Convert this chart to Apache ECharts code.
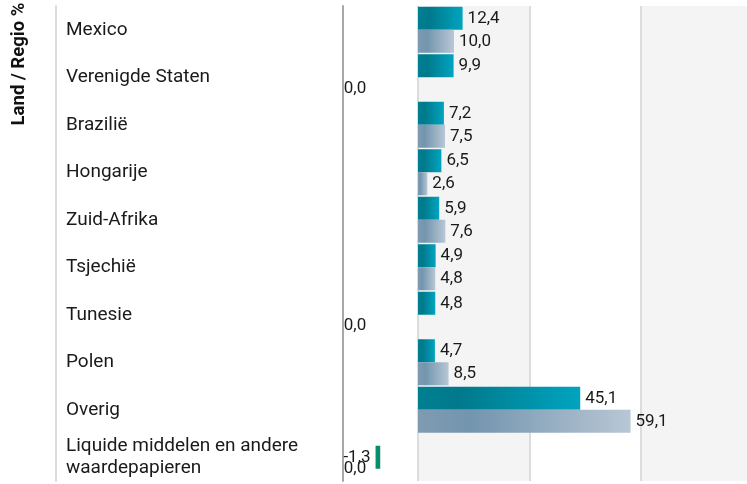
<!DOCTYPE html>
<html>
<head>
<meta charset="utf-8">
<script src="https://cdn.jsdelivr.net/npm/echarts@6/dist/echarts.min.js"></script>
<style>
  html, body { margin: 0; padding: 0; background: #fff; }
  #chart { width: 747px; height: 484px; }
</style>
</head>
<body>
<div id="chart"></div>
<script>
var categories = [
  "Mexico", "Verenigde Staten", "Brazilië", "Hongarije", "Zuid-Afrika",
  "Tsjechië", "Tunesie", "Polen", "Overig", "Liquide middelen en andere waardepapieren"
];
var tealValues = [12.4, 9.9, 7.2, 6.5, 5.9, 4.9, 4.8, 4.7, 45.1, -1.3];
var greyValues = [10.0, 0.0, 7.5, 2.6, 7.6, 4.8, 0.0, 8.5, 59.1, 0.0];

var fmt = function (v) {
  return v.toFixed(1).replace(".", ",");
};

var chart = echarts.init(document.getElementById("chart"));

var labelStyle = {
  show: true,
  position: "right",
  distance: 5,
  fontFamily: "Roboto",
  fontSize: 17,
  color: "#1a1a1a",
  opacity: 1,
};

var option = {
  animation: false,
  textStyle: { fontFamily: "Roboto" },
  graphic: [
    {
      type: "text",
      x: 19,
      y: 64,
      rotation: Math.PI / 2,
      style: {
        text: "Land / Regio %",
        fontFamily: "Roboto",
        fontWeight: "bold",
        fontSize: 18.5,
        fill: "#111",
        align: "center",
        verticalAlign: "middle",
      },
    },
  ],
  grid: {
    left: 306.5,
    width: 446,
    top: 6,
    bottom: 3,
    outerBoundsMode: "none",
    containLabel: false,
  },
  xAxis: [
    {
      type: "value",
      min: -31,
      max: 93,
      interval: 31,
      axisLine: { show: false },
      axisTick: { show: false },
      axisLabel: { show: false },
      splitLine: {
        show: true,
        showMinLine: false,
        showMaxLine: false,
        lineStyle: { color: "#dcdcdc", width: 2 },
      },
      splitArea: {
        show: true,
        areaStyle: { color: ["#ffffff", "#f4f4f4"] },
      },
    },
    {
      // helper axis for the labels left of the plot
      type: "value",
      min: -20.5,
      max: 103.5,
      show: false,
    },
  ],
  yAxis: [
    {
      type: "category",
      data: categories,
      inverse: true,
      position: "left",
      offset: -36.5,
      axisLine: {
        show: true,
        onZero: false,
        lineStyle: { color: "#a8a8a8", width: 2 },
      },
      axisTick: { show: false },
      axisLabel: {
        align: "left",
        margin: 277,
        width: 240,
        overflow: "break",
        fontFamily: "Roboto",
        fontSize: 19,
        lineHeight: 22,
        color: "#1a1a1a",
      },
    },
    {
      type: "category",
      data: categories,
      inverse: true,
      position: "left",
      offset: 250.5,
      axisLine: {
        show: true,
        onZero: false,
        lineStyle: { color: "#dcdcdc", width: 2 },
      },
      axisTick: { show: false },
      axisLabel: { show: false },
    },
  ],
  series: [
    {
      name: "teal",
      type: "bar",
      xAxisIndex: 0,
      yAxisIndex: 0,
      barWidth: 23,
      barGap: "0%",
      data: tealValues.map(function (v) { return v >= 0 ? v : null; }),
      itemStyle: {
        color: new echarts.graphic.LinearGradient(0, 0, 1, 0, [
          { offset: 0, color: "#007f93" },
          { offset: 0.25, color: "#00798b" },
          { offset: 1, color: "#00a4c0" },
        ]),
      },
      label: Object.assign({}, labelStyle, {
        formatter: function (p) { return fmt(p.value); },
      }),
    },
    {
      name: "grey",
      type: "bar",
      xAxisIndex: 0,
      yAxisIndex: 0,
      barWidth: 23,
      barGap: "0%",
      data: greyValues,
      itemStyle: {
        color: new echarts.graphic.LinearGradient(0, 0, 1, 0, [
          { offset: 0, color: "#7f9bb2" },
          { offset: 0.25, color: "#7395ae" },
          { offset: 1, color: "#b8c7d5" },
        ]),
      },
      label: Object.assign({}, labelStyle, {
        formatter: function (p) { return p.value === 0 ? "" : fmt(p.value); },
      }),
    },
    {
      name: "negatief",
      type: "bar",
      xAxisIndex: 1,
      yAxisIndex: 1,
      barWidth: 23,
      data: tealValues.map(function (v) { return v < 0 ? v : null; }),
      itemStyle: { color: "#0a8c6c" },
      label: Object.assign({}, labelStyle, {
        position: "left",
        formatter: function (p) { return fmt(p.value); },
      }),
    },
    {
      name: "nul",
      type: "scatter",
      xAxisIndex: 1,
      yAxisIndex: 1,
      symbolSize: 0,
      itemStyle: { opacity: 1 },
      data: greyValues.map(function (v) { return v === 0 ? 0 : null; }),
      label: Object.assign({}, labelStyle, {
        position: "left",
        distance: 14,
        offset: [0, 11],
        formatter: function () { return fmt(0); },
      }),
    },
  ],
};

chart.setOption(option);
</script>
</body>
</html>
